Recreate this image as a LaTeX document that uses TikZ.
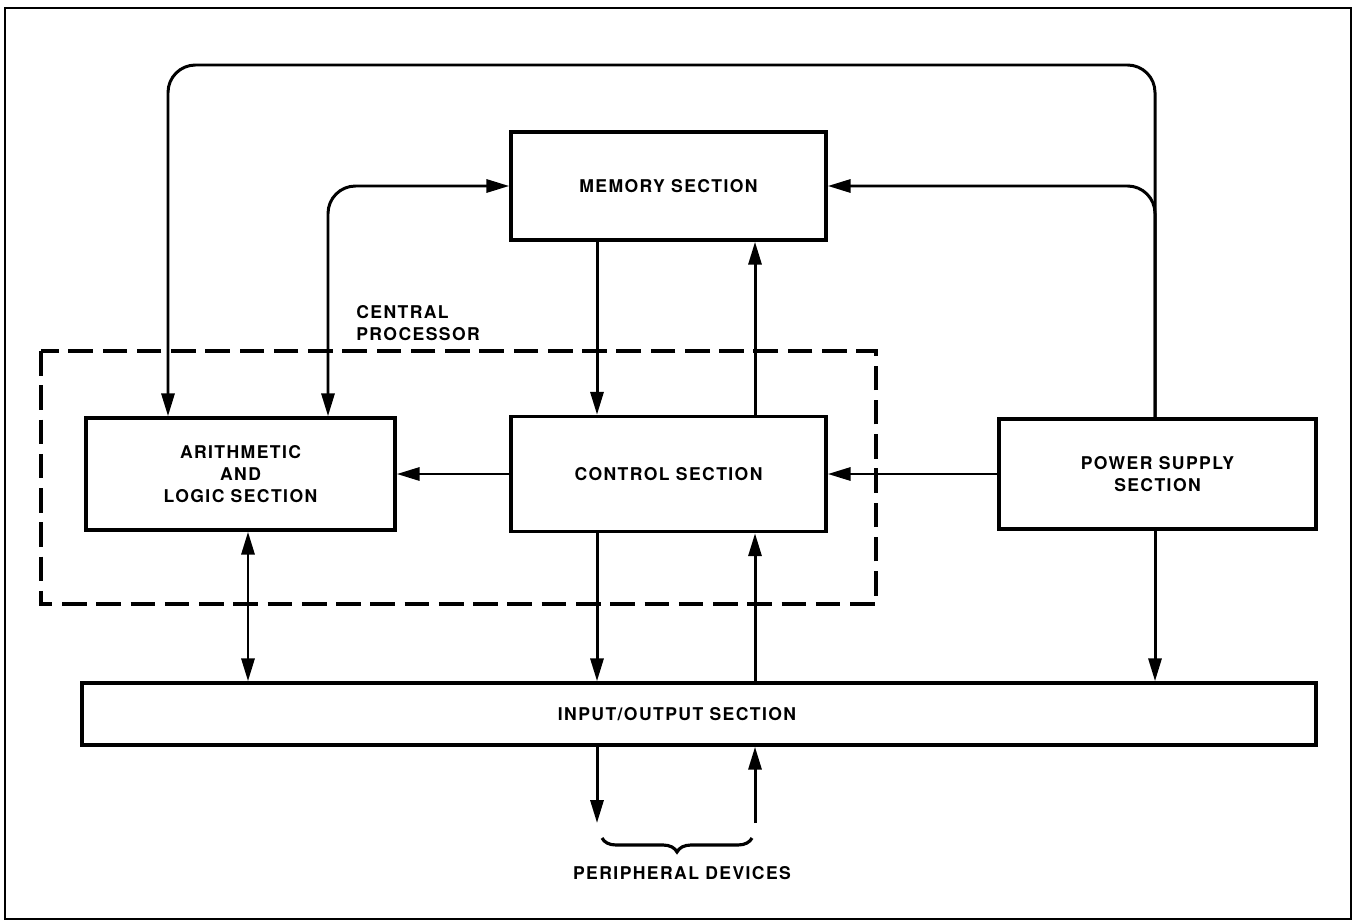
\documentclass[tikz,border=0pt]{standalone}
\usepackage{fontspec}
\setmainfont{TeX Gyre Heros}[LetterSpace=8]
\usetikzlibrary{arrows.meta,decorations.pathreplacing}

\tikzset{
  tip/.tip={Triangle[length=13pt,width=7.4pt]},
  box/.style={draw, line width=2pt, align=center, inner sep=0pt,
    font=\fontsize{10}{12.3}\selectfont\bfseries},
  lbl/.style={align=center, inner sep=0pt,
    font=\fontsize{10}{12.3}\selectfont\bfseries},
  link/.style={line width=1.7pt, -tip, rounded corners=0.55cm},
  dlink/.style={line width=1.7pt, tip-tip, rounded corners=0.55cm},
  cpu/.style={line width=2pt, dash pattern=on 14pt off 5.5pt},
}

\begin{document}
\begin{tikzpicture}[x=0.02cm, y=-0.02cm]
    \useasboundingbox (0,0) rectangle (1354,922);
    \draw[line width=1.1pt] (5,8) rectangle (1351,919);

    % blocks
    \node[box, minimum width=6.3cm, minimum height=2.16cm] (memory) at (668.5,186) {MEMORY SECTION};
    \node[box, minimum width=6.18cm, minimum height=2.24cm] (alu) at (240.5,474) {ARITHMETIC\\AND\\LOGIC SECTION};
    \node[box, minimum width=6.3cm, minimum height=2.3cm] (control) at (668.5,474) {CONTROL SECTION};
    \node[box, minimum width=6.34cm, minimum height=2.2cm] (power) at (1157.5,474) {POWER SUPPLY\\SECTION};
    \node[box, minimum width=24.68cm, minimum height=1.24cm] (io) at (699,714) {\hspace*{-0.88cm}INPUT/OUTPUT SECTION};

    % central processor
    \draw[cpu] (41,351) rectangle (876,604);
    \node[lbl, anchor=west, align=left] (cpulbl) at (356,323) {CENTRAL\\PROCESSOR};

    % columns and rows
    \coordinate (down) at (597,0);
    \coordinate (up) at (755,0);
    \coordinate (feed) at (168,0);
    \coordinate (bus) at (328,0);
    \coordinate (aio) at (248,0);
    \coordinate (rail) at (1155,0);
    \coordinate (top) at (0,65);
    \coordinate (devs) at (0,823);

    \draw[link] (power.north -| rail) |- (feed |- top) -- (alu.north -| feed);
    \draw[link] (power.north -| rail) |- (memory.east);
    \draw[dlink] (memory.west) -| (alu.north -| bus);
    \draw[link] (memory.south -| down) -- (control.north -| down);
    \draw[link] (control.north -| up) -- (memory.south -| up);
    \draw[link] (control.west) -- (alu.east);
    \draw[link] (power.west) -- (control.east);
    \draw[dlink] (alu.south -| aio) -- (io.north -| aio);
    \draw[link] (control.south -| down) -- (io.north -| down);
    \draw[link] (io.north -| up) -- (control.south -| up);
    \draw[link] (power.south -| rail) -- (io.north -| rail);
    \draw[link] (io.south -| down) -- (down |- devs);
    \draw[link] (up |- devs) -- (io.south -| up);

    % peripherals
    \draw[line width=1.8pt, decorate, decoration={brace, mirror, amplitude=0.28cm}] (602,838) -- (752,838);
    \node[lbl] (periph) at (682,873) {PERIPHERAL DEVICES};
\end{tikzpicture}
\end{document}
